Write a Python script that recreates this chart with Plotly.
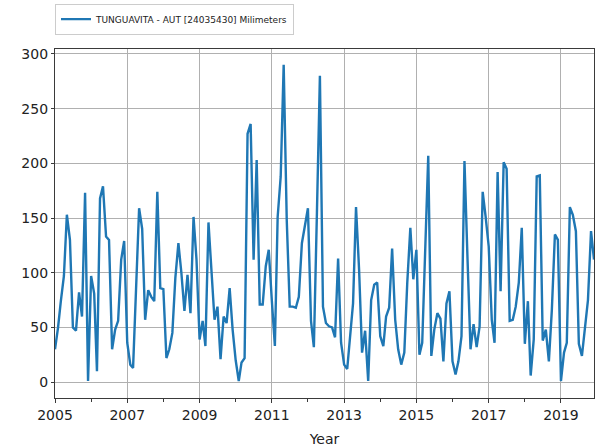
import pandas as pd
import plotly.graph_objects as go

# Monthly precipitation, TUNGUAVITA - AUT [24035430], Jan 2005 .. Dec 2019 (mm)
start_month = "2005-01-01"
rain_2005 = [30, 50, 74, 97, 153, 130, 50, 47, 82, 60, 173, 1]
rain_2006 = [97, 81, 10, 168, 179, 133, 130, 30, 48, 56, 112, 129]
rain_2007 = [36, 16, 13, 85, 159, 140, 57, 84, 78, 74, 174, 86]
rain_2008 = [85, 22, 30, 45, 95, 127, 100, 65, 98, 63, 151, 112]
rain_2009 = [39, 56, 33, 146, 100, 57, 69, 21, 60, 54, 86, 48]
rain_2010 = [20, 1, 18, 22, 227, 236, 112, 203, 71, 71, 106, 121]
rain_2011 = [75, 33, 151, 188, 290, 148, 69, 69, 68, 78, 127, 142]
rain_2012 = [159, 56, 32, 155, 280, 69, 54, 51, 50, 41, 113, 36]
rain_2013 = [16, 12, 42, 72, 160, 103, 27, 47, 1, 75, 89, 91]
rain_2014 = [42, 33, 60, 68, 122, 57, 30, 16, 27, 91, 141, 94]
rain_2015 = [121, 25, 36, 120, 207, 24, 48, 63, 58, 19, 72, 83]
rain_2016 = [19, 7, 19, 42, 202, 112, 30, 53, 32, 51, 174, 151]
rain_2017 = [124, 57, 36, 192, 83, 201, 195, 56, 57, 69, 91, 141]
rain_2018 = [35, 74, 6, 39, 188, 189, 38, 48, 19, 66, 135, 130]
rain_2019 = [1, 27, 36, 160, 153, 138, 35, 24, 48, 75, 138, 112]

values = (rain_2005 + rain_2006 + rain_2007 + rain_2008 + rain_2009 + rain_2010
          + rain_2011 + rain_2012 + rain_2013 + rain_2014 + rain_2015 + rain_2016
          + rain_2017 + rain_2018 + rain_2019)
months = pd.date_range(start_month, periods=len(values), freq="MS")

series_name = "TUNGUAVITA - AUT [24035430] Milimeters"
x_title = "Year"
y_ticks = [0, 50, 100, 150, 200, 250, 300]

font_family = "DejaVu Sans"
line_blue = "#1f77b4"
grid_grey = "#b0b0b0"
spine = "#3a3a3a"

fig = go.Figure()
fig.add_trace(go.Scatter(
    x=months, y=values, mode="lines", name=series_name,
    line=dict(color=line_blue, width=2.4),
    showlegend=True,
))

fig.update_layout(
    width=595, height=448,
    margin=dict(l=55, r=1, t=49, b=50),
    paper_bgcolor="white", plot_bgcolor="white",
    font=dict(family=font_family, size=14, color="#222"),
    showlegend=True,
    legend=dict(
        x=0.0, y=1.13, xanchor="left", yanchor="top",
        bgcolor="white", bordercolor="#cccccc", borderwidth=1,
        font=dict(size=9, color="#222"),
        itemwidth=30, tracegroupgap=0,
    ),
    xaxis=dict(
        type="date",
        range=[months[0], months[-1]],
        tick0=start_month, dtick="M24", tickformat="%Y",
        ticks="outside", ticklen=4, tickcolor=spine,
        showgrid=True, gridcolor=grid_grey, gridwidth=1,
        showline=True, linecolor=spine, linewidth=1.2, mirror=True,
        zeroline=False,
        minor=dict(dtick="M12", tick0=start_month, ticks="outside",
                   ticklen=3, tickcolor=spine, showgrid=False),
        title=dict(text=x_title, standoff=12, font=dict(size=14)),
        tickfont=dict(size=14),
    ),
    yaxis=dict(
        range=[-14.5, 304.5],
        tickvals=y_ticks,
        ticks="outside", ticklen=3, tickcolor=spine,
        showgrid=True, gridcolor=grid_grey, gridwidth=1,
        showline=True, linecolor=spine, linewidth=1.2, mirror=True,
        zeroline=False,
        tickfont=dict(size=14),
    ),
)

fig.write_html("out.html")
